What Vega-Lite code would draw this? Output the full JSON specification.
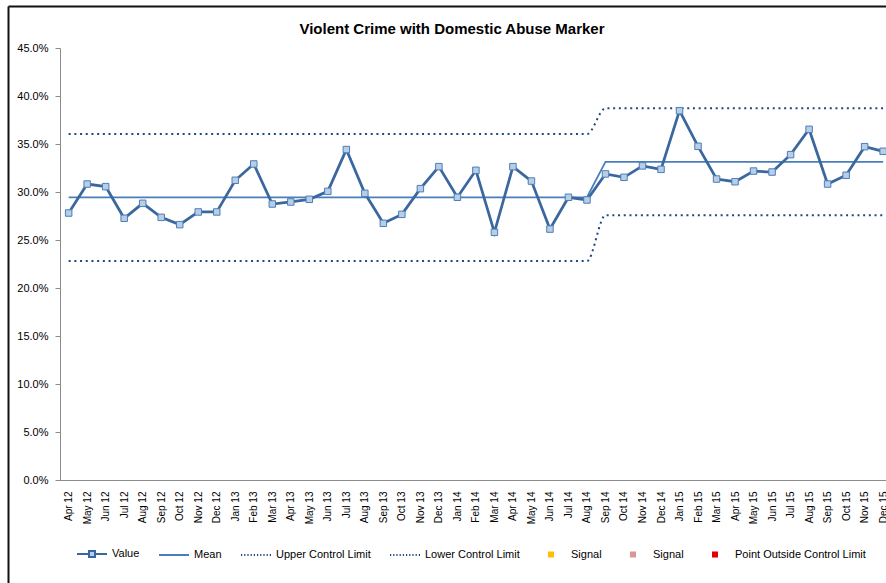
{
  "$schema": "https://vega.github.io/schema/vega-lite/v6.json",
  "autosize": {"type": "none"},
  "padding": {"left": 60, "top": 48, "right": 0, "bottom": 110},
  "width": 835,
  "height": 432,
  "background": "white",
  "title": {
    "text": "Violent Crime with Domestic Abuse Marker",
    "font": "Liberation Sans",
    "fontSize": 15,
    "fontWeight": "bold",
    "color": "#000000",
    "anchor": "middle",
    "frame": "group",
    "baseline": "alphabetic",
    "offset": -42.5,
    "dx": -25.5
  },
  "data": {
    "values": [
      {"m": "Apr 12", "v": 0.2781, "mean": 0.2945, "ucl": 0.3603, "lcl": 0.2280},
      {"m": "May 12", "v": 0.3083, "mean": 0.2945, "ucl": 0.3603, "lcl": 0.2280},
      {"m": "Jun 12", "v": 0.3056, "mean": 0.2945, "ucl": 0.3603, "lcl": 0.2280},
      {"m": "Jul 12", "v": 0.2726, "mean": 0.2945, "ucl": 0.3603, "lcl": 0.2280},
      {"m": "Aug 12", "v": 0.2882, "mean": 0.2945, "ucl": 0.3603, "lcl": 0.2280},
      {"m": "Sep 12", "v": 0.2736, "mean": 0.2945, "ucl": 0.3603, "lcl": 0.2280},
      {"m": "Oct 12", "v": 0.2660, "mean": 0.2945, "ucl": 0.3603, "lcl": 0.2280},
      {"m": "Nov 12", "v": 0.2792, "mean": 0.2945, "ucl": 0.3603, "lcl": 0.2280},
      {"m": "Dec 12", "v": 0.2792, "mean": 0.2945, "ucl": 0.3603, "lcl": 0.2280},
      {"m": "Jan 13", "v": 0.3122, "mean": 0.2945, "ucl": 0.3603, "lcl": 0.2280},
      {"m": "Feb 13", "v": 0.3292, "mean": 0.2945, "ucl": 0.3603, "lcl": 0.2280},
      {"m": "Mar 13", "v": 0.2875, "mean": 0.2945, "ucl": 0.3603, "lcl": 0.2280},
      {"m": "Apr 13", "v": 0.2896, "mean": 0.2945, "ucl": 0.3603, "lcl": 0.2280},
      {"m": "May 13", "v": 0.2924, "mean": 0.2945, "ucl": 0.3603, "lcl": 0.2280},
      {"m": "Jun 13", "v": 0.3007, "mean": 0.2945, "ucl": 0.3603, "lcl": 0.2280},
      {"m": "Jul 13", "v": 0.3442, "mean": 0.2945, "ucl": 0.3603, "lcl": 0.2280},
      {"m": "Aug 13", "v": 0.2986, "mean": 0.2945, "ucl": 0.3603, "lcl": 0.2280},
      {"m": "Sep 13", "v": 0.2674, "mean": 0.2945, "ucl": 0.3603, "lcl": 0.2280},
      {"m": "Oct 13", "v": 0.2767, "mean": 0.2945, "ucl": 0.3603, "lcl": 0.2280},
      {"m": "Nov 13", "v": 0.3035, "mean": 0.2945, "ucl": 0.3603, "lcl": 0.2280},
      {"m": "Dec 13", "v": 0.3264, "mean": 0.2945, "ucl": 0.3603, "lcl": 0.2280},
      {"m": "Jan 14", "v": 0.2945, "mean": 0.2945, "ucl": 0.3603, "lcl": 0.2280},
      {"m": "Feb 14", "v": 0.3226, "mean": 0.2945, "ucl": 0.3603, "lcl": 0.2280},
      {"m": "Mar 14", "v": 0.2580, "mean": 0.2945, "ucl": 0.3603, "lcl": 0.2280},
      {"m": "Apr 14", "v": 0.3264, "mean": 0.2945, "ucl": 0.3603, "lcl": 0.2280},
      {"m": "May 14", "v": 0.3114, "mean": 0.2945, "ucl": 0.3603, "lcl": 0.2280},
      {"m": "Jun 14", "v": 0.2614, "mean": 0.2945, "ucl": 0.3603, "lcl": 0.2280},
      {"m": "Jul 14", "v": 0.2945, "mean": 0.2945, "ucl": 0.3603, "lcl": 0.2280},
      {"m": "Aug 14", "v": 0.2917, "mean": 0.2945, "ucl": 0.3603, "lcl": 0.2280},
      {"m": "Sep 14", "v": 0.3188, "mean": 0.3314, "ucl": 0.3872, "lcl": 0.2758},
      {"m": "Oct 14", "v": 0.3153, "mean": 0.3314, "ucl": 0.3872, "lcl": 0.2758},
      {"m": "Nov 14", "v": 0.3272, "mean": 0.3314, "ucl": 0.3872, "lcl": 0.2758},
      {"m": "Dec 14", "v": 0.3236, "mean": 0.3314, "ucl": 0.3872, "lcl": 0.2758},
      {"m": "Jan 15", "v": 0.3847, "mean": 0.3314, "ucl": 0.3872, "lcl": 0.2758},
      {"m": "Feb 15", "v": 0.3476, "mean": 0.3314, "ucl": 0.3872, "lcl": 0.2758},
      {"m": "Mar 15", "v": 0.3135, "mean": 0.3314, "ucl": 0.3872, "lcl": 0.2758},
      {"m": "Apr 15", "v": 0.3107, "mean": 0.3314, "ucl": 0.3872, "lcl": 0.2758},
      {"m": "May 15", "v": 0.3218, "mean": 0.3314, "ucl": 0.3872, "lcl": 0.2758},
      {"m": "Jun 15", "v": 0.3208, "mean": 0.3314, "ucl": 0.3872, "lcl": 0.2758},
      {"m": "Jul 15", "v": 0.3389, "mean": 0.3314, "ucl": 0.3872, "lcl": 0.2758},
      {"m": "Aug 15", "v": 0.3653, "mean": 0.3314, "ucl": 0.3872, "lcl": 0.2758},
      {"m": "Sep 15", "v": 0.3083, "mean": 0.3314, "ucl": 0.3872, "lcl": 0.2758},
      {"m": "Oct 15", "v": 0.3174, "mean": 0.3314, "ucl": 0.3872, "lcl": 0.2758},
      {"m": "Nov 15", "v": 0.3472, "mean": 0.3314, "ucl": 0.3872, "lcl": 0.2758},
      {"m": "Dec 15", "v": 0.3424, "mean": 0.3314, "ucl": 0.3872, "lcl": 0.2758}
    ]
  },
  "layer": [
    {
      "encoding": {
        "x": {
          "field": "m",
          "type": "ordinal",
          "sort": null,
          "scale": {"type": "point", "padding": 0.5, "range": [-0.6, 832.4]},
          "axis": {
            "title": null,
            "orient": "bottom",
            "labelAngle": -90,
            "labelFont": "Liberation Sans",
            "labelFontSize": 10,
            "labelColor": "#000000",
            "labelPadding": 11,
            "ticks": false,
            "tickSize": 0,
            "domainColor": "#8c8c8c",
            "domainWidth": 1,
            "grid": false,
            "labelOverlap": false
          }
        },
        "y": {
          "field": "v",
          "type": "quantitative",
          "scale": {"domain": [0, 0.45], "nice": false, "zero": true},
          "axis": {
            "title": null,
            "orient": "left",
            "values": [0, 0.05, 0.1, 0.15, 0.2, 0.25, 0.3, 0.35, 0.4, 0.45],
            "format": ".1%",
            "labelFont": "Liberation Sans",
            "labelFontSize": 11,
            "labelColor": "#000000",
            "labelPadding": 7,
            "ticks": true,
            "tickSize": 5,
            "tickColor": "#8c8c8c",
            "domain": true,
            "domainColor": "#8c8c8c",
            "grid": false
          }
        }
      },
      "layer": [
        {
          "mark": {"type": "line", "interpolate": "monotone", "stroke": "#1F497D", "strokeWidth": 2, "strokeDash": [2, 3.7]},
          "encoding": {"y": {"field": "ucl", "type": "quantitative"}}
        },
        {
          "mark": {"type": "line", "interpolate": "monotone", "stroke": "#1F497D", "strokeWidth": 2, "strokeDash": [2, 3.7]},
          "encoding": {"y": {"field": "lcl", "type": "quantitative"}}
        },
        {
          "mark": {"type": "line", "stroke": "#4A7EBB", "strokeWidth": 1.75},
          "encoding": {"y": {"field": "mean", "type": "quantitative"}}
        },
        {
          "mark": {"type": "line", "stroke": "#3A679E", "strokeWidth": 2.75}
        },
        {
          "mark": {"type": "point", "shape": "square", "filled": true, "fill": "#B9CDE5", "stroke": "#4A7EBB", "strokeWidth": 1, "size": 42, "opacity": 1}
        },
        {
          "transform": [{"fold": ["v", "mean", "ucl", "lcl"], "as": ["series", "val"]}],
          "mark": {"type": "point", "filled": true, "opacity": 0},
          "encoding": {
            "y": {"field": "val", "type": "quantitative"},
            "fill": {
              "field": "series",
              "type": "nominal",
              "scale": {
                "domain": ["v", "mean", "ucl", "lcl", "signal1", "signal2", "outside"],
                "range": ["#B9CDE5", "#4A7EBB", "#1F497D", "#1F497D", "#FFC000", "#D99795", "#FF0000"]
              },
              "legend": {
                "title": null,
                "labelExpr": "{'v': 'Value', 'mean': 'Mean', 'ucl': 'Upper Control Limit', 'lcl': 'Lower Control Limit', 'signal1': 'Signal', 'signal2': 'Signal', 'outside': 'Point Outside  Control Limit'}[datum.label]"
              }
            },
            "stroke": {
              "field": "series",
              "type": "nominal",
              "scale": {
                "domain": ["v", "mean", "ucl", "lcl", "signal1", "signal2", "outside"],
                "range": ["#3A679E", "#4A7EBB", "#1F497D", "#1F497D", "#FFC000", "#D99795", "#E00000"]
              },
              "legend": {
                "title": null,
                "labelExpr": "{'v': 'Value', 'mean': 'Mean', 'ucl': 'Upper Control Limit', 'lcl': 'Lower Control Limit', 'signal1': 'Signal', 'signal2': 'Signal', 'outside': 'Point Outside  Control Limit'}[datum.label]"
              }
            },
            "shape": {
              "field": "series",
              "type": "nominal",
              "scale": {
                "domain": ["v", "mean", "ucl", "lcl", "signal1", "signal2", "outside"],
                "range": [
                  "M-1,0H-0.2M0.2,0H1M-0.2,-0.2H0.2V0.2H-0.2Z",
                  "M-1,0H1",
                  "M-1,0h0.08M-0.787,0h0.08M-0.573,0h0.08M-0.36,0h0.08M-0.147,0h0.08M0.067,0h0.08M0.28,0h0.08M0.493,0h0.08M0.707,0h0.08M0.92,0h0.08",
                  "M-1,0h0.08M-0.787,0h0.08M-0.573,0h0.08M-0.36,0h0.08M-0.147,0h0.08M0.067,0h0.08M0.28,0h0.08M0.493,0h0.08M0.707,0h0.08M0.92,0h0.08",
                  "M-0.133,-0.133H0.133V0.133H-0.133Z",
                  "M-0.133,-0.133H0.133V0.133H-0.133Z",
                  "M-0.133,-0.133H0.133V0.133H-0.133Z"
                ]
              },
              "legend": {
                "title": null,
                "labelExpr": "{'v': 'Value', 'mean': 'Mean', 'ucl': 'Upper Control Limit', 'lcl': 'Lower Control Limit', 'signal1': 'Signal', 'signal2': 'Signal', 'outside': 'Point Outside  Control Limit'}[datum.label]"
              }
            }
          }
        }
      ]
    },
    {
      "mark": {"type": "point", "opacity": 0},
      "encoding": {
        "x": {
          "field": "m",
          "type": "ordinal",
          "sort": null,
          "scale": {"type": "point", "range": [-52, 900]},
          "axis": {"title": null, "orient": "top", "offset": 42, "labels": false, "ticks": false, "grid": false, "domainColor": "#111111", "domainWidth": 2}
        },
        "y": {
          "field": "v",
          "type": "quantitative",
          "scale": {"domain": [0, 0.45], "range": [650, -42], "nice": false},
          "axis": {"title": null, "orient": "left", "offset": 52, "labels": false, "ticks": false, "grid": false, "domainColor": "#111111", "domainWidth": 2}
        }
      }
    }
  ],
  "resolve": {
    "scale": {"x": "independent", "y": "independent"},
    "axis": {"x": "independent", "y": "independent"}
  },
  "config": {
    "view": {"stroke": null},
    "legend": {
      "orient": "none",
      "legendX": 16,
      "legendY": 490,
      "direction": "horizontal",
      "symbolSize": 900,
      "symbolStrokeWidth": 2,
      "symbolOpacity": 1,
      "labelFont": "Liberation Sans",
      "labelFontSize": 11,
      "labelColor": "#000000",
      "labelOffset": 4,
      "columnPadding": 15,
      "padding": 0
    }
  }
}
